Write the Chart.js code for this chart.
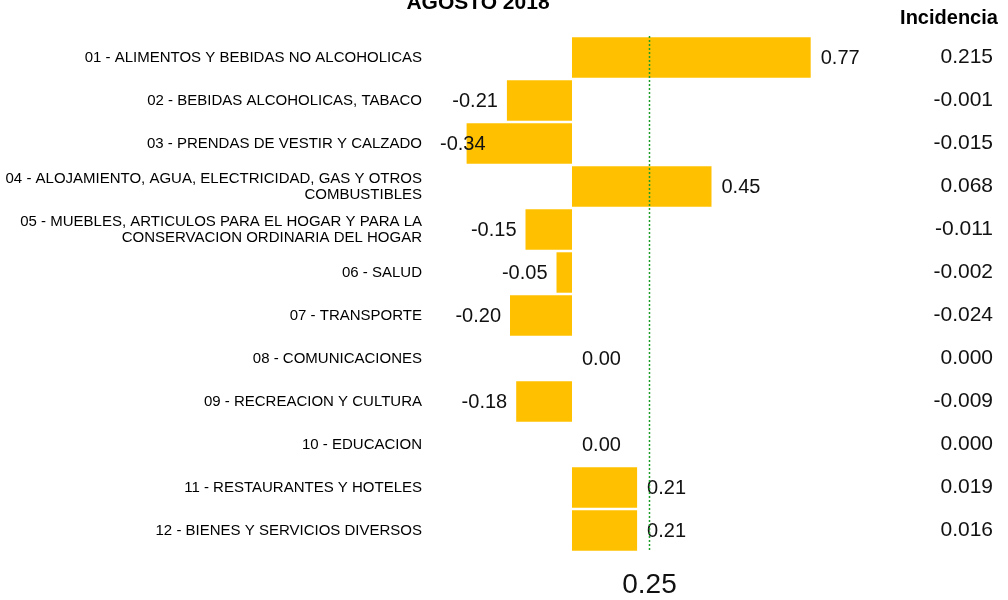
<!DOCTYPE html>
<html>
<head>
<meta charset="utf-8">
<script src="https://cdn.jsdelivr.net/npm/chart.js@4"></script>
<style>
  html, body { margin: 0; padding: 0; background: #fff; }
  #wrap { width: 1008px; height: 600px; }
</style>
</head>
<body>
<div id="wrap"><canvas id="myChart" width="1008" height="600"></canvas></div>
<script>
// datos del grafico
var titulo = "AGOSTO 2018";
var categorias = [
  "01 - ALIMENTOS Y BEBIDAS NO ALCOHOLICAS",
  "02 - BEBIDAS ALCOHOLICAS, TABACO",
  "03 - PRENDAS DE VESTIR Y CALZADO",
  ["04 - ALOJAMIENTO, AGUA, ELECTRICIDAD, GAS Y OTROS", "COMBUSTIBLES"],
  ["05 - MUEBLES, ARTICULOS PARA EL HOGAR Y PARA LA", "CONSERVACION ORDINARIA DEL HOGAR"],
  "06 - SALUD",
  "07 - TRANSPORTE",
  "08 - COMUNICACIONES",
  "09 - RECREACION Y CULTURA",
  "10 - EDUCACION",
  "11 - RESTAURANTES Y HOTELES",
  "12 - BIENES Y SERVICIOS DIVERSOS"
];
var variacion = [0.77, -0.21, -0.34, 0.45, -0.15, -0.05, -0.20, 0.00, -0.18, 0.00, 0.21, 0.21];
var incidencia = [0.215, -0.001, -0.015, 0.068, -0.011, -0.002, -0.024, 0.000, -0.009, 0.000, 0.019, 0.016];
var valorGeneral = 0.25;
var xMin = -0.4, xMax = 1.0;

var FONT = "'Liberation Sans', Arial, sans-serif";

// etiquetas de valor, linea del general, titulo y columna de incidencia
var etiquetasPlugin = {
  id: "etiquetas",
  afterDatasetsDraw: function (chart) {
    var ctx = chart.ctx;
    var meta = chart.getDatasetMeta(0);
    var area = chart.chartArea;
    ctx.save();
    ctx.font = "20px " + FONT;
    ctx.fillStyle = "#111";
    ctx.textBaseline = "middle";
    meta.data.forEach(function (bar, i) {
      var v = variacion[i];
      var txt = v.toFixed(2);
      if (v < 0) {
        var w = ctx.measureText(txt).width;
        ctx.textAlign = "right";
        // si no cabe, se monta sobre la barra
        ctx.fillText(txt, Math.max(bar.x - 9, area.left - 8 + w), bar.y + 1);
      } else {
        ctx.textAlign = "left";
        ctx.fillText(txt, bar.x + 10, bar.y + 1);
      }
    });

    // linea del indice general
    var xs = chart.scales.x;
    var xg = xs.getPixelForValue(valorGeneral);
    ctx.strokeStyle = "#1f9f2a";
    ctx.lineWidth = 1.5;
    ctx.setLineDash([2, 2]);
    ctx.beginPath();
    ctx.moveTo(xg, area.top);
    ctx.lineTo(xg, area.bottom);
    ctx.stroke();
    ctx.setLineDash([]);
    ctx.font = "28px " + FONT;
    ctx.textAlign = "center";
    ctx.fillText(valorGeneral.toFixed(2), xg, 585);

    // titulo (cortado arriba como en el original)
    ctx.font = "bold 21px " + FONT;
    ctx.fillStyle = "#000";
    ctx.textBaseline = "alphabetic";
    ctx.fillText(titulo, 478, 9);

    // columna de incidencia
    var ys = chart.scales.y;
    ctx.font = "bold 20px " + FONT;
    ctx.textAlign = "center";
    ctx.textBaseline = "middle";
    ctx.fillText("Incidencia", 949, 18);
    ctx.font = "21px " + FONT;
    ctx.fillStyle = "#111";
    ctx.textAlign = "right";
    incidencia.forEach(function (v, i) {
      ctx.fillText(v.toFixed(3), 993, ys.getPixelForValue(i));
    });
    ctx.restore();
  }
};

var chart = new Chart(document.getElementById("myChart"), {
  type: "bar",
  data: {
    labels: categorias,
    datasets: [{
      data: variacion,
      backgroundColor: "#FFC000",
      borderWidth: 0,
      barPercentage: 0.94,
      categoryPercentage: 1.0
    }]
  },
  options: {
    indexAxis: "y",
    responsive: false,
    animation: false,
    layout: { padding: { top: 36, bottom: 48, right: 126, left: 0 } },
    scales: {
      x: {
        display: false,
        min: xMin,
        max: xMax
      },
      y: {
        grid: { display: false, drawTicks: false },
        border: { display: false },
        afterFit: function (scale) { scale.width = 448; },
        ticks: {
          padding: 26,
          color: "#000",
          autoSkip: false,
          font: { family: FONT, size: 15, lineHeight: 1.05 }
        }
      }
    },
    plugins: {
      legend: { display: false },
      tooltip: { enabled: false }
    }
  },
  plugins: [etiquetasPlugin]
});
</script>
</body>
</html>
